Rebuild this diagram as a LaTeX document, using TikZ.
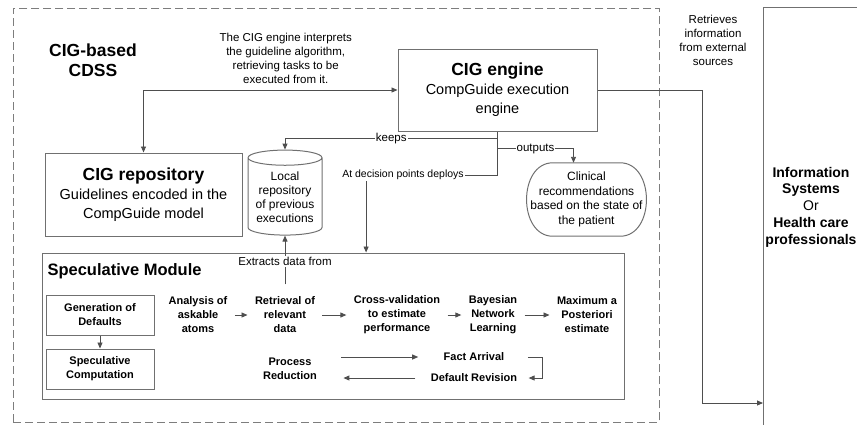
\documentclass[tikz,border=0pt]{standalone}
\usepackage{fontspec}
\setmainfont{Liberation Sans}
\usetikzlibrary{arrows.meta,shapes.geometric,positioning}
\definecolor{cLine}{RGB}{78,78,78}
\definecolor{cBox}{RGB}{112,112,112}
\definecolor{cDash}{RGB}{125,125,125}
\newcommand{\ttlfont}{\fontsize{17.5}{20}\selectfont\bfseries}
\newcommand{\bodyfont}{\fontsize{14.5}{19}\selectfont}
\newcommand{\smallfont}{\fontsize{11.5}{14}\selectfont}
\newcommand{\stepfont}{\fontsize{11}{14}\selectfont\bfseries}

\begin{document}
\begin{tikzpicture}[
  x=1pt, y=-1pt, color=black,
  box/.style   ={draw=cBox, line width=1pt, align=center, inner sep=2pt},
  outer/.style ={draw=cDash, line width=0.9pt, dash pattern=on 8pt off 4pt},
  conn/.style  ={draw=cLine, line width=0.9pt},
  arr/.style   ={-{Triangle[length=6pt,width=5pt]}},
  lbl/.style   ={font=\smallfont, fill=white, inner sep=1pt},
  stepnode/.style={font=\stepfont, align=center},
]
\useasboundingbox (0,0) rectangle (857,424);
\clip (0,0) rectangle (857,424);

% ----- the CDSS container and the outside world ---------------------------
\node[outer, minimum width=646, minimum height=414, anchor=north west] (cdss) at (13,8) {};
\node[font=\ttlfont, align=center] (cdsslbl) at (93,60) {CIG-based\\CDSS};

\node[box, minimum width=100, minimum height=440, anchor=north west] (infobox) at (763,7) {};
\node[font=\fontsize{14}{16.7}\selectfont, align=center] (info) at (811,207)
     {\textbf{Information}\\\textbf{Systems}\\Or\\\textbf{Health care}\\\textbf{professionals}};
\node[font=\smallfont, align=center] (retrlbl) at (713,40)
     {Retrieves\\information\\from external\\sources};

% ----- engine, repository and outputs ------------------------------------
\node[box, font=\bodyfont, minimum width=199, minimum height=82] (engine) at (497.5,90)
     {{\ttlfont CIG engine}\\CompGuide execution\\engine};
\node[box, font=\bodyfont, minimum width=197, minimum height=83] (repo) at (143.5,194.5)
     {{\ttlfont CIG repository}\\Guidelines encoded in the\\CompGuide model};
\node[cylinder, shape border rotate=90, aspect=0.25, draw=cBox, line width=1pt,
      minimum width=74, minimum height=85, inner sep=1pt,
      font=\fontsize{12}{14}\selectfont, align=center]
     (local) at (285,197.5) {Local\\repository\\of previous\\executions};
\node[align=center, inner sep=0pt, minimum width=119, minimum height=73,
      font=\fontsize{12}{14.5}\selectfont] (clin) at (586.5,199.5)
     {Clinical\\recommendations\\based on the state of\\the patient};
% stadium outline of the recommendations node
\draw[cBox, line width=1pt]
  ([xshift=26pt]clin.north west) -- ([xshift=-26pt]clin.north east)
  .. controls ([xshift=9pt]clin.north east) and ([xshift=9pt]clin.south east) .. ([xshift=-26pt]clin.south east)
  -- ([xshift=26pt]clin.south west)
  .. controls ([xshift=-9pt]clin.south west) and ([xshift=-9pt]clin.north west) .. cycle;
\node[font=\fontsize{10.5}{13}\selectfont, inner sep=1pt] (deploys) at (403,175) {At decision points deploys};

% ----- speculative module --------------------------------------------------
\node[box, minimum width=582, minimum height=146] (spec) at (333,326) {};
\node[font=\fontsize{16.5}{20}\selectfont\bfseries, anchor=west] (spectitle) at (44,271)
     {Speculative Module};
\node[box, stepnode, minimum width=108, minimum height=40] (gen)   at (100,315) {Generation of\\Defaults};
\node[box, stepnode, minimum width=108, minimum height=40] (specc) at (100,369) {Speculative\\Computation};
\node[stepnode] (ana)   at (198,315) {Analysis of\\askable\\atoms};
\node[stepnode] (retr)  at (285,315) {Retrieval of\\relevant\\data};
\node[stepnode] (cross) at (397,315) {Cross-validation\\to estimate\\performance};
\node[stepnode] (bayes) at (493,315) {Bayesian\\Network\\Learning};
\node[stepnode] (map)   at (587,315) {Maximum a\\Posteriori\\estimate};
\node[stepnode] (proc)  at (290,369) {Process\\Reduction};
\node[stepnode] (fact)  at (474,357) {Fact Arrival};
\node[stepnode] (defrev) at (474,378) {Default Revision};

% ----- connectors ----------------------------------------------------------
\draw[conn, {Triangle[length=6pt,width=5pt]}-{Triangle[length=6pt,width=5pt]}]
  (repo.north) |- node[pos=0.78, above=3pt, font=\smallfont, align=center] (interp)
  {The CIG engine interprets\\the guideline algorithm,\\retrieving tasks to be\\executed from it.} (engine.west);

\draw[conn] (engine.south) |- (deploys.east);
\draw[conn, arr] ([yshift=-7pt]engine.south) -| node[lbl, pos=0.25] (keepslbl) {keeps} (local.north);
\draw[conn, arr] ([yshift=-17pt]engine.south) -| node[lbl, pos=0.25] (outlbl) {outputs} ([xshift=-13pt]clin.north);
\coordinate (dep) at ([xshift=25pt]deploys.south west);
\draw[conn, arr] (dep) -- (dep |- spec.north);
\draw[conn, arr, shorten <=9pt] (retr.north) -- node[lbl, pos=0.55] (extlbl) {Extracts data from} (local.south);

\coordinate (turn) at (702,403);
\draw[conn, arr] (engine.east) -| (turn) -- (turn -| infobox.west);

\draw[conn, arr] (gen) -- (specc);
\foreach \a/\b in {ana/retr, retr/cross, cross/bayes, bayes/map}
  \draw[conn, arr, shorten <=4pt, shorten >=4pt] (\a.east) -- (\b.west);

\draw[conn, arr, shorten <=21pt, shorten >=22pt] (proc.east |- fact.west) -- (fact.west);
\draw[conn, arr] ([xshift=20pt]fact.east) -- ++(15,0) |- ([xshift=8pt]defrev.east);
\draw[conn, arr, shorten <=12pt, shorten >=23pt] (defrev.west) -- (defrev.west -| proc.east);

\end{tikzpicture}
\end{document}
